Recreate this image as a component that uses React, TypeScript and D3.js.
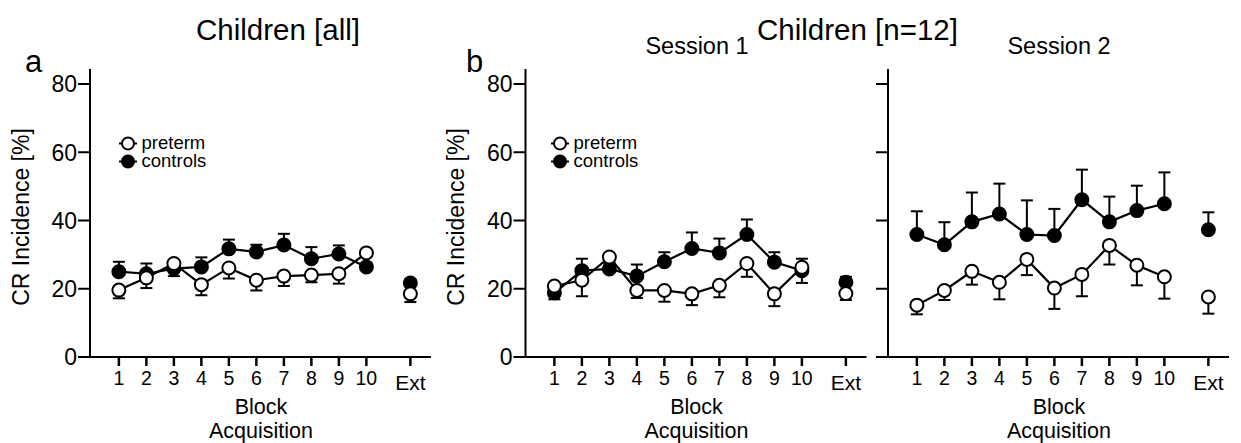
import React from 'react';
import * as d3 from 'd3';

// ---------- data ----------
const xLabels = ['1', '2', '3', '4', '5', '6', '7', '8', '9', '10', 'Ext'];
const yTicks = [0, 20, 40, 60, 80];

// Panel a: Children [all]
const allPretermMean = [19.6, 23.2, 27.4, 21.2, 26.1, 22.5, 23.7, 24.0, 24.4, 30.5, 18.5];
const allPretermSem = [2.4, 3.0, 3.7, 3.1, 3.1, 3.0, 2.9, 2.1, 2.9, 1.0, 2.4];
const allControlsMean = [25.0, 24.4, 25.9, 26.4, 31.7, 30.8, 32.8, 28.8, 30.2, 26.4, 21.7];
const allControlsSem = [2.9, 3.0, 1.0, 2.8, 2.7, 2.1, 3.3, 3.4, 2.5, 1.0, 1.0];

// Panel b: Children [n=12], Session 1
const s1PretermMean = [20.8, 22.5, 29.3, 19.5, 19.5, 18.5, 21.0, 27.4, 18.5, 26.3, 18.6];
const s1PretermSem = [3.9, 4.7, 1.5, 2.2, 3.3, 3.3, 3.5, 3.9, 3.6, 4.6, 1.9];
const s1ControlsMean = [18.8, 25.3, 25.8, 23.7, 27.9, 31.8, 30.5, 35.9, 27.8, 25.3, 21.9];
const s1ControlsSem = [1.0, 3.5, 1.5, 3.4, 2.8, 4.7, 4.2, 4.4, 2.9, 3.5, 1.6];

// Panel b: Session 2
const s2PretermMean = [15.2, 19.5, 25.1, 21.9, 28.6, 20.2, 24.2, 32.7, 26.9, 23.5, 17.6];
const s2PretermSem = [2.7, 2.8, 3.9, 5.0, 4.6, 6.1, 6.4, 5.6, 5.9, 6.4, 4.9];
const s2ControlsMean = [35.9, 32.9, 39.6, 41.9, 35.9, 35.6, 46.1, 39.6, 42.9, 44.9, 37.3];
const s2ControlsSem = [6.8, 6.6, 8.6, 8.9, 10.0, 7.8, 8.8, 7.4, 7.3, 9.2, 5.1];

const legendLabels = ['preterm', 'controls'];

// ---------- styling ----------
const FONT = "'Liberation Sans', Arial, Helvetica, sans-serif";
const EXT_POS = 11.6;
const R = 6.5;

type PanelProps = {
  x0: number;
  pMean: number[];
  pSem: number[];
  cMean: number[];
  cSem: number[];
  showYLabels: boolean;
  showYTitle: boolean;
  legendX: number | null;
};

function Panel({ x0, pMean, pSem, cMean, cSem, showYLabels, showYTitle, legendX }: PanelProps) {
  const x = d3.scaleLinear().domain([-0.05, 12.35]).range([x0, x0 + 341]);
  const y = d3.scaleLinear().domain([0, 80]).range([357, 84]);
  const pos = (i: number) => (i < 10 ? i + 1 : EXT_POS);
  const line = d3
    .line<number>()
    .x((_, i) => x(pos(i)))
    .y((d) => y(d));

  const series = [
    { mean: cMean, sem: cSem, filled: true, dir: 1 },
    { mean: pMean, sem: pSem, filled: false, dir: -1 },
  ];

  return (
    <g>
      {/* axes */}
      <line x1={x0} x2={x0} y1={y(0)} y2={y(84.4)} stroke="#000" strokeWidth={2} />
      <line x1={x0} x2={x0 + 341} y1={y(0)} y2={y(0)} stroke="#000" strokeWidth={2} />
      {yTicks.map((t) => (
        <g key={'yt' + t}>
          <line x1={x0 - 12} x2={x0} y1={y(t)} y2={y(t)} stroke="#000" strokeWidth={2} />
          {showYLabels && (
            <text
              x={x0 - 13}
              y={y(t)}
              dy="0.36em"
              textAnchor="end"
              fontSize={23}
              fontFamily={FONT}
            >
              {t}
            </text>
          )}
        </g>
      ))}
      {xLabels.map((lab, i) => (
        <g key={'xt' + lab}>
          <line x1={x(pos(i))} x2={x(pos(i))} y1={y(0)} y2={y(0) + 9} stroke="#000" strokeWidth={2.5} />
          <text
            x={x(pos(i))}
            y={lab === 'Ext' ? 389.5 : 384.5}
            textAnchor="middle"
            fontSize={lab === 'Ext' ? 21 : 19.5}
            fontFamily={FONT}
          >
            {lab}
          </text>
        </g>
      ))}
      <text x={x0 + 171} y={413.5} textAnchor="middle" fontSize={21.5} fontFamily={FONT}>
        Block
      </text>
      <text x={x0 + 171} y={437.5} textAnchor="middle" fontSize={21.5} fontFamily={FONT}>
        Acquisition
      </text>
      {showYTitle && (
        <text
          transform={`translate(${x0 - 61.5},${217}) rotate(-90)`}
          textAnchor="middle"
          fontSize={23}
          fontFamily={FONT}
        >
          CR Incidence [%]
        </text>
      )}

      {/* data */}
      {series.map((s, si) => (
        <g key={'s' + si}>
          <path d={line(s.mean.slice(0, 10)) || ''} fill="none" stroke="#000" strokeWidth={2.2} />
          {s.mean.map((m, i) => {
            const cx = x(pos(i));
            const yEnd = y(m + s.dir * s.sem[i]);
            return (
              <g key={'e' + i}>
                <line x1={cx} x2={cx} y1={y(m)} y2={yEnd} stroke="#000" strokeWidth={2} />
                <line x1={cx - 6} x2={cx + 6} y1={yEnd} y2={yEnd} stroke="#000" strokeWidth={2} />
              </g>
            );
          })}
          {s.mean.map((m, i) => (
            <circle
              key={'c' + i}
              cx={x(pos(i))}
              cy={y(m)}
              r={R}
              fill={s.filled ? '#000' : '#fff'}
              stroke="#000"
              strokeWidth={2}
            />
          ))}
        </g>
      ))}

      {/* legend */}
      {legendX !== null &&
        legendLabels.map((lab, i) => {
          const cy = 143.5 + i * 18;
          return (
            <g key={'lg' + lab}>
              <line x1={legendX - 9} x2={legendX + 9} y1={cy} y2={cy} stroke="#000" strokeWidth={2} />
              <circle
                cx={legendX}
                cy={cy}
                r={6}
                fill={i === 1 ? '#000' : '#fff'}
                stroke="#000"
                strokeWidth={2}
              />
              <text x={legendX + 13.5} y={cy + 5} fontSize={18.5} fontFamily={FONT}>
                {lab}
              </text>
            </g>
          );
        })}
    </g>
  );
}

export default function App() {
  return (
    <svg
      width={1241}
      height={443}
      viewBox="0 0 1241 443"
      style={{ position: 'absolute', left: 0, top: 0, background: '#fff' }}
    >
      <rect x={0} y={0} width={1241} height={443} fill="#fff" />
      <text x={278} y={40} textAnchor="middle" fontSize={29.5} fontFamily={FONT}>
        Children [all]
      </text>
      <text x={857.5} y={39.5} textAnchor="middle" fontSize={29.5} fontFamily={FONT}>
        Children [n=12]
      </text>
      <text x={697} y={54} textAnchor="middle" fontSize={23.5} fontFamily={FONT}>
        Session 1
      </text>
      <text x={1059} y={54} textAnchor="middle" fontSize={23.5} fontFamily={FONT}>
        Session 2
      </text>
      <text x={25} y={72} fontSize={31} fontFamily={FONT}>
        a
      </text>
      <text x={466} y={72} fontSize={31} fontFamily={FONT}>
        b
      </text>

      <Panel
        x0={90}
        pMean={allPretermMean}
        pSem={allPretermSem}
        cMean={allControlsMean}
        cSem={allControlsSem}
        showYLabels={true}
        showYTitle={true}
        legendX={128}
      />
      <Panel
        x0={525.5}
        pMean={s1PretermMean}
        pSem={s1PretermSem}
        cMean={s1ControlsMean}
        cSem={s1ControlsSem}
        showYLabels={true}
        showYTitle={true}
        legendX={560}
      />
      <Panel
        x0={888}
        pMean={s2PretermMean}
        pSem={s2PretermSem}
        cMean={s2ControlsMean}
        cSem={s2ControlsSem}
        showYLabels={false}
        showYTitle={false}
        legendX={null}
      />
    </svg>
  );
}
